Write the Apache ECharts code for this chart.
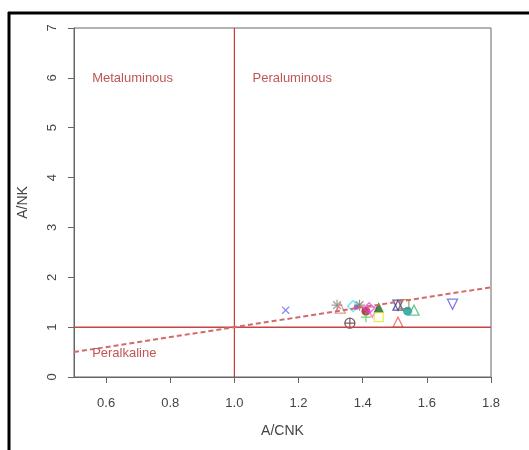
<!DOCTYPE html>
<html>
<head>
<meta charset="utf-8">
<script src="https://cdn.jsdelivr.net/npm/echarts@6/dist/echarts.min.js"></script>
<style>
  html, body { margin: 0; padding: 0; background: #fff; }
  #main { width: 529px; height: 450px; }
</style>
</head>
<body>
<div id="main"></div>
<script>
// sample values
var sampleACNK = [1.16, 1.32, 1.33, 1.37, 1.38, 1.39, 1.41, 1.42, 1.43, 1.41, 1.45, 1.45, 1.36, 1.51, 1.53, 1.54, 1.56, 1.51, 1.68];
var sampleANK  = [1.34, 1.44, 1.38, 1.42, 1.40, 1.44, 1.32, 1.38, 1.30, 1.20, 1.20, 1.40, 1.08, 1.44, 1.46, 1.32, 1.34, 1.10, 1.46];
var sampleShapes = ['x', 'asterisk', 'triangle', 'diamond', 'dot', 'asterisk', 'circle', 'diamond', 'triangleDown', 'plus',
                    'square', 'triangleFilled', 'circlePlus', 'star', 'square', 'circle', 'triangle', 'triangle', 'triangleDown'];
var sampleColors = ['#6464f0', '#8c8c8c', '#e27a7a', '#3fe3f0', '#9b3fc8', '#7a7a7a', '#a8102a', '#f040f0', '#f060d0', '#40d040',
                    '#e8e820', '#1a6a1a', '#5a3535', '#343494', '#9a8a30', '#139a9a', '#40b870', '#f45a5a', '#5a5ade'];

// guide lines
var boundaryX = [1.0, 1.0];
var boundaryXy = [0, 7];
var boundaryYx = [0.5, 1.8];
var boundaryY = [1.0, 1.0];
var equalLineX = [0.5, 1.8];
var equalLineY = [0.5, 1.8];

// field names
var fieldNames = ['Metaluminous', 'Peraluminous', 'Peralkaline'];
var fieldX = [0.555, 1.055, 0.555];
var fieldY = [5.98, 5.98, 0.48];

// ticks
var xTicks = [0.6, 0.8, 1.0, 1.2, 1.4, 1.6, 1.8];
var yTicks = [0, 1, 2, 3, 4, 5, 6, 7];

var plusPath = 'path://M4.4,0h1.2v10h-1.2z M0,4.4h10v1.2h-10z';

// 一个形状可以由几个部分叠起来
var shapeParts = {
    x: [{ symbol: plusPath, rotate: 45, fill: true, size: 10 }],
    plus: [{ symbol: plusPath, rotate: 0, fill: true, size: 10 }],
    asterisk: [{ symbol: plusPath, rotate: 0, fill: true, size: 11 }, { symbol: plusPath, rotate: 45, fill: true, size: 11 }],
    triangle: [{ symbol: 'triangle', rotate: 0, fill: false, size: 10 }],
    triangleDown: [{ symbol: 'triangle', rotate: 180, fill: false, size: 10 }],
    triangleFilled: [{ symbol: 'triangle', rotate: 0, fill: true, size: 10 }],
    diamond: [{ symbol: 'diamond', rotate: 0, fill: false, size: 11 }],
    square: [{ symbol: 'rect', rotate: 0, fill: false, size: 9 }],
    circle: [{ symbol: 'circle', rotate: 0, fill: true, size: 9 }],
    dot: [{ symbol: 'circle', rotate: 0, fill: true, size: 5 }],
    circlePlus: [{ symbol: 'circle', rotate: 0, fill: false, size: 10 }, { symbol: plusPath, rotate: 0, fill: true, size: 10 }],
    star: [{ symbol: 'triangle', rotate: 0, fill: false, size: 10 }, { symbol: 'triangle', rotate: 180, fill: false, size: 10 }]
};

var pointData = [];
for (var i = 0; i < sampleACNK.length; i++) {
    var parts = shapeParts[sampleShapes[i]];
    for (var j = 0; j < parts.length; j++) {
        var p = parts[j];
        pointData.push({
            value: [sampleACNK[i], sampleANK[i]],
            symbol: p.symbol,
            symbolSize: p.size,
            symbolRotate: p.rotate,
            itemStyle: p.fill ? { color: sampleColors[i], borderWidth: 0 }
                              : { color: 'rgba(255,255,255,0)', borderColor: sampleColors[i], borderWidth: 1.3 }
        });
    }
}

function pairs(xs, ys) {
    var out = [];
    for (var k = 0; k < xs.length; k++) out.push([xs[k], ys[k]]);
    return out;
}

var fieldData = [];
for (var f = 0; f < fieldNames.length; f++) {
    fieldData.push({ name: fieldNames[f], value: [fieldX[f], fieldY[f]] });
}

var chart = echarts.init(document.getElementById('main'));
var labelFont = 'Liberation Sans, Arial, sans-serif';

var option = {
    backgroundColor: '#fff',
    animation: false,
    grid: {
        left: 74,
        right: 38,
        top: 28,
        bottom: 73,
        show: true,
        borderColor: '#666',
        borderWidth: 1
    },
    xAxis: {
        type: 'value',
        min: 0.5,
        max: 1.8,
        name: 'A/CNK',
        nameLocation: 'middle',
        nameGap: 47,
        nameTextStyle: { fontFamily: labelFont, fontSize: 14, color: '#444' },
        axisLine: { show: true, lineStyle: { color: '#666', width: 1 } },
        axisTick: { show: true, length: 6, customValues: xTicks, lineStyle: { color: '#666' } },
        axisLabel: {
            customValues: xTicks,
            margin: 20,
            fontFamily: labelFont,
            fontSize: 13,
            color: '#444',
            formatter: function (v) { return v.toFixed(1); }
        },
        splitLine: { show: false }
    },
    yAxis: {
        type: 'value',
        min: 0,
        max: 7,
        interval: 1,
        name: 'A/NK',
        nameLocation: 'middle',
        nameGap: 44,
        nameTextStyle: { fontFamily: labelFont, fontSize: 14, color: '#444' },
        axisLine: { show: true, lineStyle: { color: '#666', width: 1 } },
        axisTick: { show: true, length: 6, lineStyle: { color: '#666' } },
        axisLabel: {
            rotate: 90,
            margin: 15,
            fontFamily: labelFont,
            fontSize: 13,
            color: '#444'
        },
        splitLine: { show: false }
    },
    graphic: [
        { type: 'line', shape: { x1: 9, y1: 12, x2: 9, y2: 450 }, style: { stroke: '#000', lineWidth: 3 } },
        { type: 'line', shape: { x1: 8, y1: 13, x2: 529, y2: 13 }, style: { stroke: '#000', lineWidth: 3 } }
    ],
    series: [
        {
            type: 'line',
            silent: true,
            symbol: 'none',
            lineStyle: { color: '#cc3838', width: 1.2 },
            data: pairs(boundaryX, boundaryXy)
        },
        {
            type: 'line',
            silent: true,
            symbol: 'none',
            lineStyle: { color: '#c84444', width: 1.5 },
            data: pairs(boundaryYx, boundaryY)
        },
        {
            type: 'line',
            silent: true,
            symbol: 'none',
            lineStyle: { color: '#d36a6a', width: 2, type: [5, 3] },
            data: pairs(equalLineX, equalLineY)
        },
        {
            type: 'scatter',
            silent: true,
            symbolSize: 1,
            itemStyle: { color: 'rgba(0,0,0,0)' },
            label: {
                show: true,
                position: 'right',
                distance: 0,
                formatter: '{b}',
                fontFamily: labelFont,
                fontSize: 13,
                color: '#b02a2a'
            },
            data: fieldData
        },
        {
            type: 'scatter',
            data: pointData
        }
    ]
};

chart.setOption(option);
</script>
</body>
</html>
